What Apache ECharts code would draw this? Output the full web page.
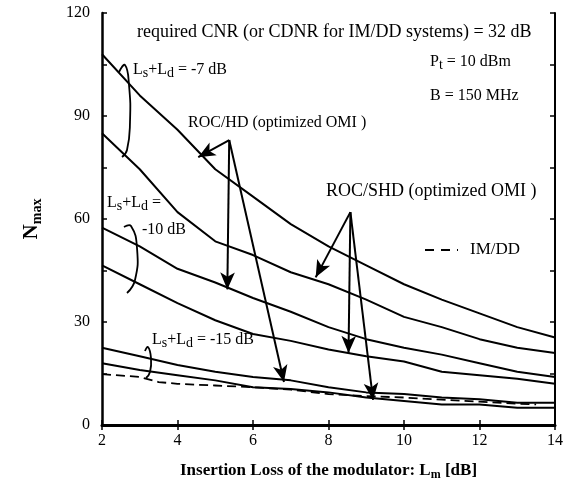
<!DOCTYPE html>
<html>
<head>
<meta charset="utf-8">
<script src="https://cdn.jsdelivr.net/npm/echarts@6/dist/echarts.min.js"></script>
<style>
  html, body { margin: 0; padding: 0; background: #fff; }
  #chart { width: 566px; height: 490px; }
</style>
</head>
<body>
<div id="chart"></div>
<script>
// insertion loss of the modulator, Lm [dB]
const lossDb = [2, 3, 4, 5, 6, 7, 8, 9, 10, 11, 12, 13, 14];

// ROC/HD and ROC/SHD, Ls+Ld = -7 dB
const hd7 = [108, 96, 86, 74.5, 66.5, 58.5, 52, 46.5, 41, 36.5, 32.5, 28.5, 25.5];
const shd7 = [85, 74.5, 62, 53.5, 49.5, 44.5, 41, 36.5, 31.5, 28.5, 25, 22.5, 21];
// Ls+Ld = -10 dB
const hd10 = [57.5, 52, 45.5, 41.5, 37, 33, 28.5, 25, 22.5, 20.5, 18, 15.5, 14];
const shd10 = [46.5, 41, 35.5, 30.5, 26.5, 24.5, 22, 20, 18.5, 15.5, 14.5, 13.5, 12];
// Ls+Ld = -15 dB
const hd15 = [22.5, 20, 17.5, 15.5, 14, 13, 11, 9.5, 9, 8, 7.5, 6.5, 6.5];
const shd15 = [18, 16, 14.5, 13, 11, 10.5, 9.5, 8, 7, 6, 6, 5, 5];

// IM/DD
const imddLoss = [2, 3, 3.5, 4, 5, 6, 7, 8, 9, 10, 11, 12, 13, 13.5];
const imdd = [14.8, 14, 12.5, 12, 11.5, 11, 10.3, 9, 8.4, 8, 7.4, 6.8, 6.2, 6];

const yTicks = [0, 30, 60, 90, 120];
const xTicks = [2, 4, 6, 8, 10, 12, 14];

const pairs = (xs, ys) => xs.map((x, i) => [x, ys[i]]);

const serif = "Liberation Serif";

// arrows: [from, to] in data units
const hdArrows = [
  [[5.37, 83], [4.55, 78]],
  [[5.37, 83], [5.32, 39.5]],
  [[5.37, 83], [6.82, 12.5]],
];
const shdArrows = [
  [[8.58, 62], [7.66, 43]],
  [[8.58, 62], [8.53, 21]],
  [[8.58, 62], [9.18, 7.3]],
];

const chart = echarts.init(document.getElementById("chart"));

const curveLine = { color: "#000", width: 2 };

const makeArrow = (a) => [{ coord: a[0] }, { coord: a[1] }];

const options = {
  animation: false,
  grid: { left: 102, right: 8, top: 13, bottom: 65 },
  xAxis: [
    {
      type: "value",
      min: 2,
      max: 14,
      interval: 2,
      name: "Insertion Loss of the modulator: {b|L}{s|m} {b|[dB]}",
      nameLocation: "middle",
      nameGap: 36,
      nameTextStyle: {
        fontFamily: serif,
        fontWeight: "bold",
        fontSize: 17,
        color: "#000",
        rich: {
          b: { fontFamily: serif, fontWeight: "bold", fontSize: 17, color: "#000" },
          s: { fontFamily: serif, fontWeight: "bold", fontSize: 12, color: "#000", verticalAlign: "bottom", padding: [8, 0, 0, 0] },
        },
      },
      axisLine: { lineStyle: { color: "#000", width: 3 } },
      axisTick: { inside: true, length: 5, lineStyle: { color: "#000", width: 1.5 } },
      axisLabel: { fontFamily: serif, fontSize: 16, color: "#000", margin: 8 },
      splitLine: { show: false },
    },
    {
      type: "value",
      position: "top",
      min: 2,
      max: 14,
      interval: 2,
      axisLine: { lineStyle: { color: "#000", width: 1.5 } },
      axisTick: { inside: true, length: 5, lineStyle: { color: "#000", width: 1.5 } },
      axisLabel: { show: false },
      splitLine: { show: false },
    },
  ],
  yAxis: [
    {
      type: "value",
      min: 0,
      max: 120,
      interval: 30,
      name: "N{s|max}",
      nameLocation: "middle",
      nameGap: 58,
      nameTextStyle: {
        fontFamily: serif,
        fontWeight: "bold",
        fontSize: 21,
        color: "#000",
        rich: {
          s: { fontFamily: serif, fontWeight: "bold", fontSize: 14, color: "#000", padding: [10, 0, 0, 0] },
        },
      },
      axisLine: { lineStyle: { color: "#000", width: 2.5 } },
      axisTick: { inside: true, length: 5, lineStyle: { color: "#000", width: 1.5 } },
      minorTick: { show: true, splitNumber: 2, length: 5, lineStyle: { color: "#000", width: 1.5 } },
      axisLabel: { fontFamily: serif, fontSize: 16, color: "#000", margin: 12 },
      splitLine: { show: false },
      minorSplitLine: { show: false },
    },
    {
      type: "value",
      position: "right",
      min: 0,
      max: 120,
      interval: 15,
      axisLine: { lineStyle: { color: "#000", width: 2 } },
      axisTick: { inside: true, length: 5, lineStyle: { color: "#000", width: 1.5 } },
      axisLabel: { show: false },
      splitLine: { show: false },
    },
  ],
  series: [
    { name: "ROC/HD -7", type: "line", data: pairs(lossDb, hd7), showSymbol: false, lineStyle: curveLine },
    { name: "ROC/SHD -7", type: "line", data: pairs(lossDb, shd7), showSymbol: false, lineStyle: curveLine },
    { name: "ROC/HD -10", type: "line", data: pairs(lossDb, hd10), showSymbol: false, lineStyle: curveLine },
    { name: "ROC/SHD -10", type: "line", data: pairs(lossDb, shd10), showSymbol: false, lineStyle: curveLine },
    { name: "ROC/HD -15", type: "line", data: pairs(lossDb, hd15), showSymbol: false, lineStyle: curveLine },
    { name: "ROC/SHD -15", type: "line", data: pairs(lossDb, shd15), showSymbol: false, lineStyle: curveLine },
    {
      name: "IM/DD",
      type: "line",
      data: pairs(imddLoss, imdd),
      showSymbol: false,
      lineStyle: { color: "#000", width: 1.8, type: [9, 5] },
    },
    {
      // arrows from the labels
      name: "arrows",
      type: "line",
      data: [],
      markLine: {
        silent: true,
        animation: false,
        symbol: ["none", "arrow"],
        symbolSize: [11, 17],
        label: { show: false },
        lineStyle: { color: "#000", width: 2, type: "solid" },
        data: hdArrows.concat(shdArrows).map(makeArrow),
      },
    },
  ],
  graphic: [],
};

chart.setOption(options);

// text annotations and the little brackets (pixel layout)
const txt = (left, top, text, size, rich) => ({
  type: "text",
  left: left,
  top: top,
  style: {
    text: text,
    fontFamily: serif,
    fontSize: size,
    fill: "#000",
    rich: rich || {},
  },
});
const subRich = (size) => ({
  n: { fontFamily: serif, fontSize: size, fill: "#000" },
  s: { fontFamily: serif, fontSize: size - 2, fill: "#000", padding: [7, 0, 0, 0] },
});
const bracket = (pts) => ({
  type: "polyline",
  shape: { points: pts, smooth: 0.5 },
  style: { stroke: "#000", lineWidth: 1.8, fill: null },
});

chart.setOption({
  graphic: [
    txt(137, 23, "required CNR (or CDNR for IM/DD systems) = 32 dB", 18),
    txt(133, 62, "{n|L}{s|s}{n|+L}{s|d}{n| = -7 dB}", 16, subRich(16)),
    txt(430, 54, "{n|P}{s|t}{n| = 10 dBm}", 16, subRich(16)),
    txt(430, 88, "B = 150 MHz", 16),
    txt(188, 115, "ROC/HD (optimized OMI )", 16),
    txt(326, 182, "ROC/SHD (optimized OMI )", 18),
    txt(107, 195, "{n|L}{s|s}{n|+L}{s|d}{n| =}", 16, subRich(16)),
    txt(142, 222, "-10 dB", 16),
    txt(470, 241, "IM/DD", 17),
    {
      type: "line",
      shape: { x1: 425, y1: 250, x2: 458, y2: 250 },
      style: { stroke: "#000", lineWidth: 2, lineDash: [9, 7] },
    },
    txt(152, 332, "{n|L}{s|s}{n|+L}{s|d}{n| = -15 dB}", 16, subRich(16)),
    bracket([[119, 72], [125, 65], [129, 85], [130, 122], [127, 150], [122, 157]]),
    bracket([[124, 227], [131, 226], [137, 248], [135, 280], [127, 293]]),
    bracket([[145, 351], [148, 347], [151, 358], [150, 372], [146, 378]]),
  ],
});
</script>
</body>
</html>
